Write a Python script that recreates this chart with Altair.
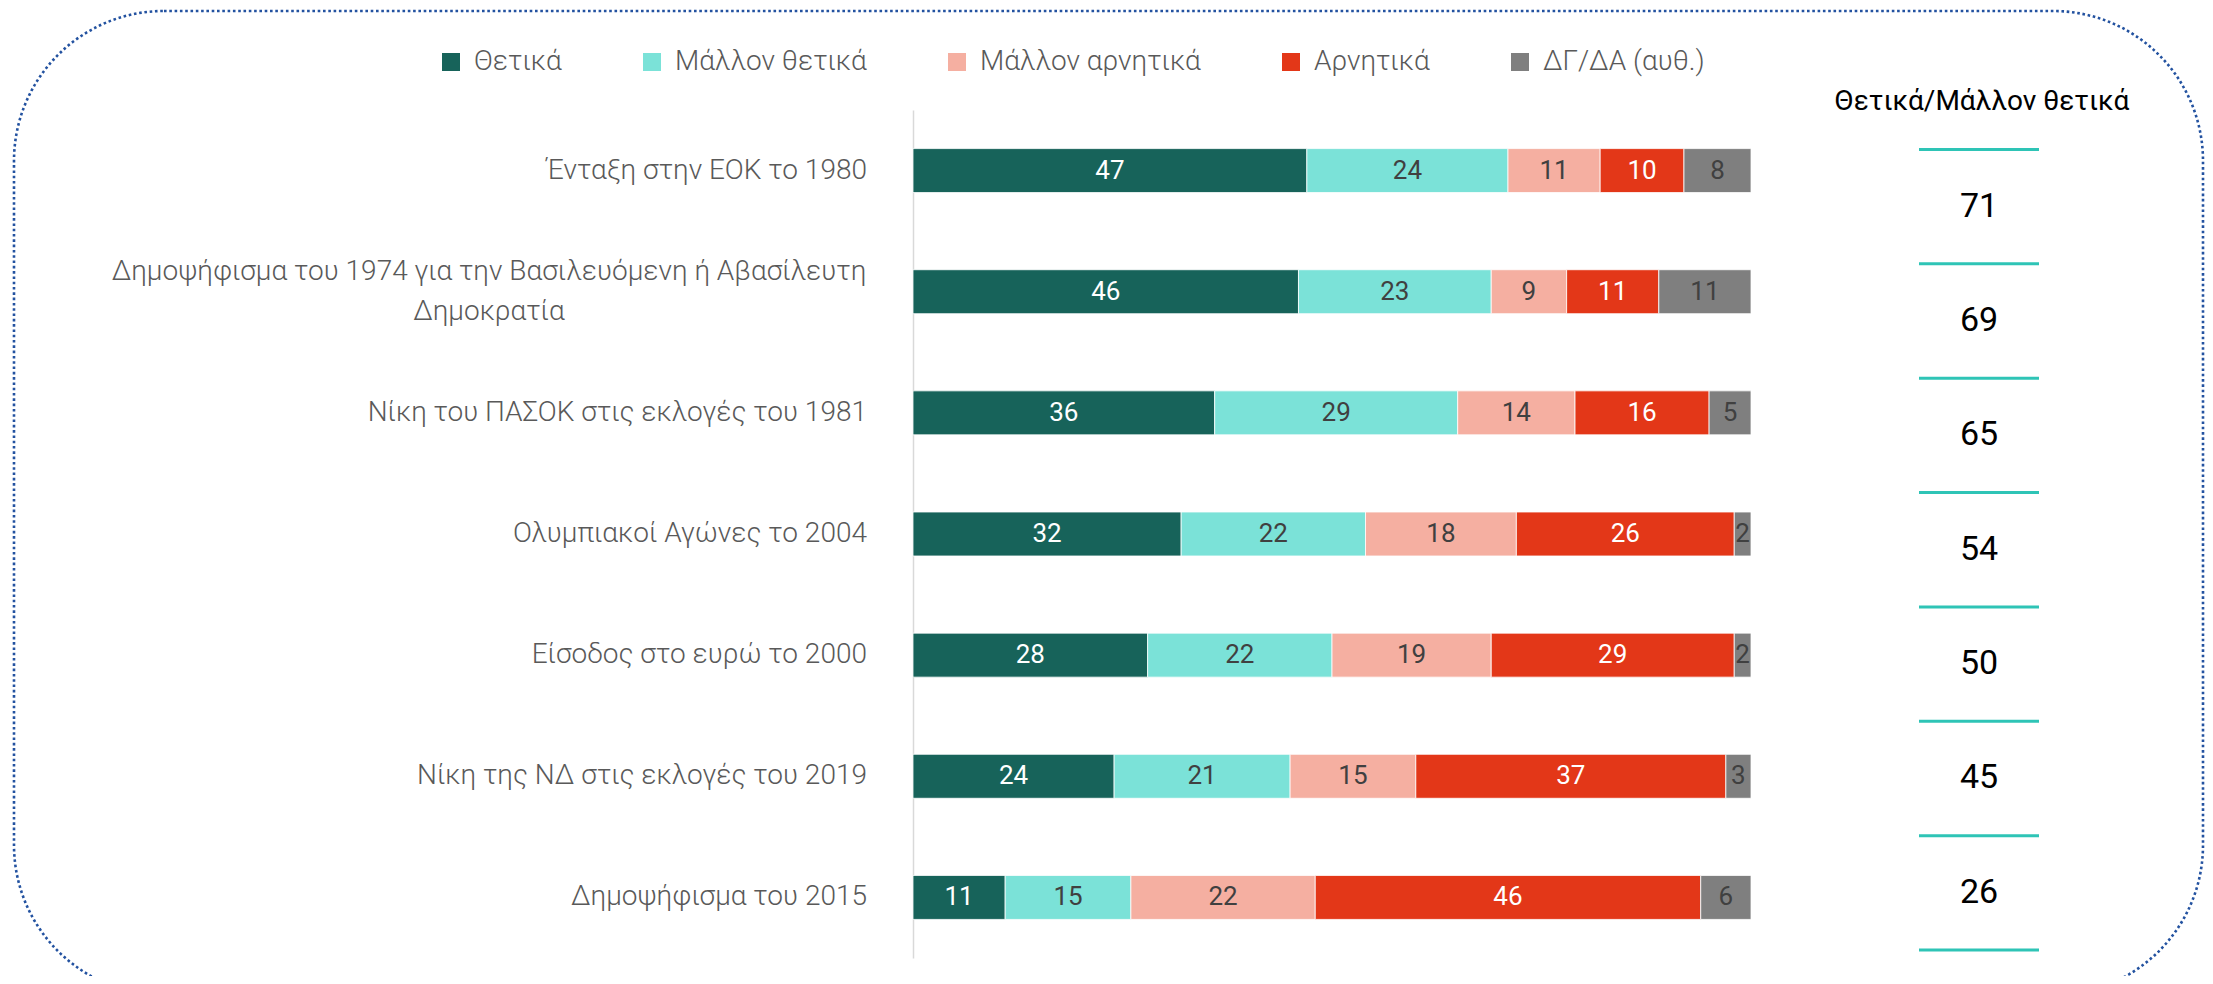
import altair as alt
import pandas as pd

categories = [
    "Ένταξη στην ΕΟΚ το 1980",
    "Δημοψήφισμα του 1974 για την Βασιλευόμενη ή Αβασίλευτη\nΔημοκρατία",
    "Νίκη του ΠΑΣΟΚ στις εκλογές του 1981",
    "Ολυμπιακοί Αγώνες το 2004",
    "Είσοδος στο ευρώ το 2000",
    "Νίκη της ΝΔ στις εκλογές του 2019",
    "Δημοψήφισμα του 2015",
]
series = ["Θετικά", "Μάλλον θετικά", "Μάλλον αρνητικά", "Αρνητικά", "ΔΓ/ΔΑ (αυθ.)"]
thetika = [47, 46, 36, 32, 28, 24, 11]
mallon_thetika = [24, 23, 29, 22, 22, 21, 15]
mallon_arnitika = [11, 9, 14, 18, 19, 15, 22]
arnitika = [10, 11, 16, 26, 29, 37, 46]
dgda = [8, 11, 5, 2, 2, 3, 6]
positive_total = [71, 69, 65, 54, 50, 45, 26]
total_title = "Θετικά/Μάλλον θετικά"
colors = ["#17635A", "#7BE2D8", "#F5AFA1", "#E33718", "#7F7F7F"]

values = [thetika, mallon_thetika, mallon_arnitika, arnitika, dgda]
rows = []
for i, c in enumerate(categories):
    for j, s in enumerate(series):
        rows.append({"cat": c, "series": s, "idx": j, "value": values[j][i]})
df = pd.DataFrame(rows)

lab_single = pd.DataFrame({"cat": [c for c in categories if "\n" not in c]})
lab_multi = pd.DataFrame({"cat": [c for c in categories if "\n" in c]})
rdf = pd.DataFrame({"cat": categories, "total": positive_total})
rdf_last = rdf.tail(1)
one = pd.DataFrame({"k": [0]})

FONT = "Roboto"
LABEL_GRAY = "#595959"
LABEL_SIZE = 28

y_left = alt.Y(
    "cat:N",
    sort=categories,
    scale=alt.Scale(paddingInner=0.637, paddingOuter=0.3185),
    axis=alt.Axis(labels=False, ticks=False, domain=True, domainColor="#D9D9D9",
                  domainWidth=1.5, title=None, grid=False),
)

base = alt.Chart(df).transform_window(
    cum="sum(value)", groupby=["cat"], sort=[alt.SortField("idx")], frame=[None, 0]
).transform_calculate(
    start="datum.cum - datum.value", mid="datum.cum - datum.value / 2"
)

bars = base.mark_bar(stroke="white", strokeWidth=0.8).encode(
    x=alt.X("start:Q", scale=alt.Scale(domain=[0, 100]), axis=None),
    x2="cum:Q",
    y=y_left,
    color=alt.Color(
        "series:N",
        scale=alt.Scale(domain=series, range=colors),
        legend=alt.Legend(
            title=None, orient="none", legendX=-476, legendY=-62,
            direction="horizontal", symbolType="square", symbolSize=324,
            symbolStrokeWidth=0, labelFont=FONT, labelFontWeight=300,
            labelFontSize=LABEL_SIZE, labelColor=LABEL_GRAY, columnPadding=76,
            labelOffset=9, padding=0, labelLimit=500,
        ),
    ),
)

bar_text = base.mark_text(font=FONT, fontSize=26, baseline="middle").encode(
    x="mid:Q",
    y=y_left,
    text="value:Q",
    color=alt.condition(
        "datum.series == 'Θετικά' || datum.series == 'Αρνητικά'",
        alt.value("white"), alt.value("#404040"),
    ),
)

labels = alt.Chart(lab_single).mark_text(
    align="right", baseline="middle", font=FONT, fontWeight=300, fontSize=LABEL_SIZE,
    color=LABEL_GRAY,
).encode(x=alt.value(-46), y=y_left, text="cat:N")

labels_multi = alt.Chart(lab_multi).mark_text(
    align="center", baseline="middle", font=FONT, fontWeight=300, fontSize=LABEL_SIZE,
    color=LABEL_GRAY, lineBreak="\n", lineHeight=40, dy=-20,
).encode(x=alt.value(-424), y=y_left, text="cat:N")

left = alt.layer(bars, bar_text, labels, labels_multi)

y_right_scale = alt.Scale(range=[39.5, 840], paddingInner=0, paddingOuter=0)
rules_top = alt.Chart(rdf).mark_rule(color="#2EC4B6", strokeWidth=3).encode(
    x=alt.value(1006), x2=alt.value(1126),
    y=alt.Y("cat:N", sort=categories, scale=y_right_scale, axis=None, bandPosition=0),
)
rules_bottom = alt.Chart(rdf_last).mark_rule(color="#2EC4B6", strokeWidth=3).encode(
    x=alt.value(1006), x2=alt.value(1126),
    y=alt.Y("cat:N", sort=categories, scale=y_right_scale, axis=None, bandPosition=1),
)
nums = alt.Chart(rdf).mark_text(font=FONT, fontSize=34, color="black", baseline="middle").encode(
    x=alt.value(1066),
    y=alt.Y("cat:N", sort=categories, scale=y_right_scale, axis=None),
    text="total:Q",
)
right = alt.layer(rules_top, rules_bottom, nums)

title = alt.Chart(one).mark_text(font=FONT, fontSize=28, color="black", baseline="alphabetic").encode(
    x=alt.value(1069), y=alt.value(0), text=alt.value(total_title)
)

border = alt.Chart(one).mark_rect(
    fillOpacity=0, stroke="#2352A0", strokeWidth=2.6, strokeDash=[2.6, 2.7],
    cornerRadius=150,
).encode(x=alt.value(-899), x2=alt.value(1290), y=alt.value(-99), y2=alt.value(885))

chart = alt.layer(border, left, right, title).resolve_scale(y="independent").properties(
    width=838, height=848,
    autosize=alt.AutoSizeParams(type="none"),
    padding={"left": 905, "top": 102, "right": 454, "bottom": 18},
    background="white",
).configure_view(strokeWidth=0)

chart.save("out.html", embed_options={"renderer": "svg", "actions": False})
